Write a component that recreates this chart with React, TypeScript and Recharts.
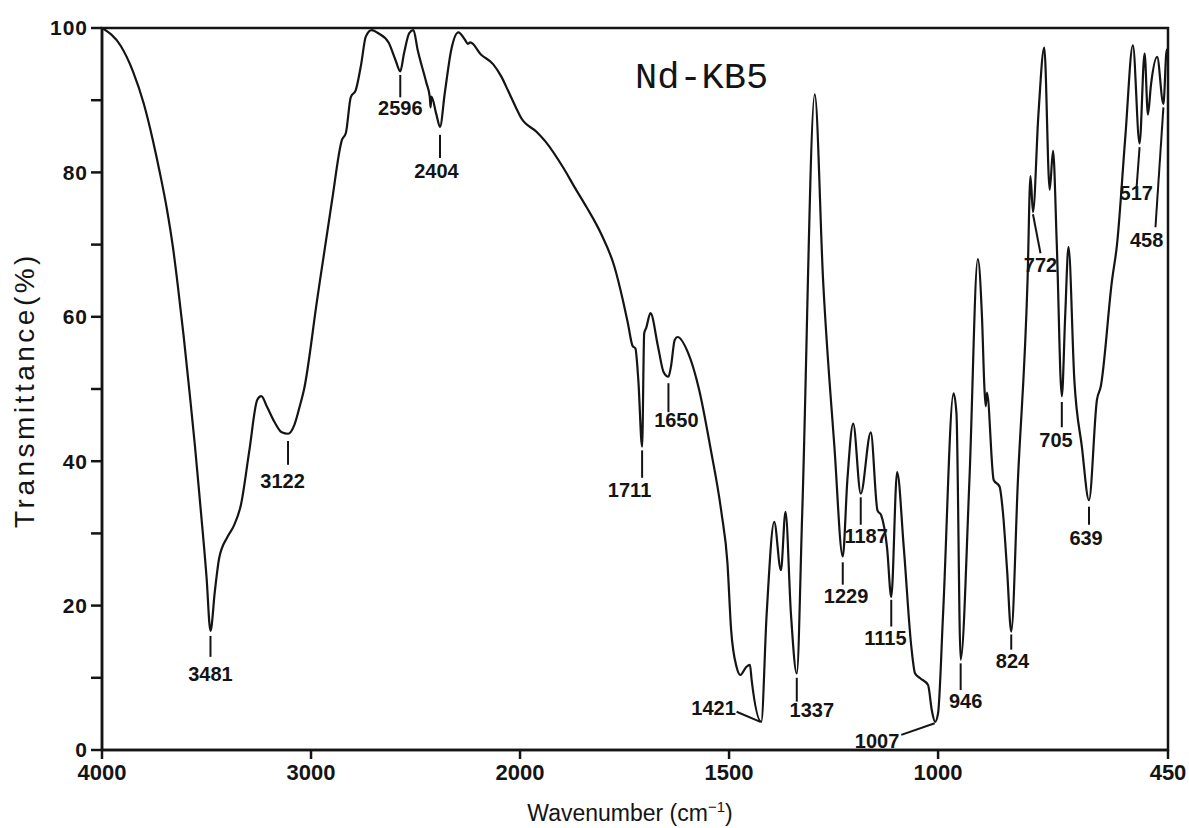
import React from 'react';
import { ComposedChart, Line, Scatter, XAxis, YAxis, ReferenceLine, ReferenceArea } from 'recharts';

// spectrum, wavenumber (cm-1) and transmittance (%)
const wavenumbers = [
  4000, 3910, 3852, 3800, 3757, 3720, 3690, 3660, 3638, 3610, 3581, 3555, 3533, 3500, 3481, 3460,
  3440, 3400, 3370, 3335, 3295, 3257, 3238, 3210, 3176, 3140, 3110, 3080, 3055, 3033, 2971, 2900,
  2852, 2833, 2810, 2786, 2760, 2738, 2710, 2680, 2629, 2595, 2573, 2555, 2530, 2510, 2490, 2448,
  2432, 2428, 2424, 2400, 2383, 2360, 2329, 2295, 2262, 2250, 2238, 2186, 2129, 2090, 2057, 2020,
  1998, 1960, 1938, 1895, 1870, 1841, 1807, 1774, 1754, 1742, 1731, 1724, 1717, 1708, 1703, 1698,
  1688, 1670, 1657, 1645, 1639, 1630, 1623, 1598, 1572, 1545, 1518, 1504, 1495, 1482, 1473, 1459,
  1450, 1446, 1423, 1410, 1392, 1376, 1365, 1352, 1338, 1325, 1295, 1275, 1248, 1228, 1217, 1203,
  1185, 1161, 1145, 1136, 1122, 1112, 1098, 1082, 1064, 1055, 1042, 1024, 1015, 1007, 1000, 988,
  963, 956, 946, 925, 905, 895, 889, 886, 883, 867, 853, 845, 835, 825, 809, 786,
  779, 773, 760, 746, 733, 725, 716, 704, 696, 688, 674, 656, 639, 620, 611, 584,
  572, 552, 534, 518, 506, 498, 491, 476, 461, 453, 450,
];
const transmittance = [
  100, 97.5, 94, 89.5, 84.5, 79.5, 75, 69.5, 64.5, 57.5, 49.5, 42, 35, 24, 16.5, 22,
  26.5, 29.5, 31, 34, 41.5, 48.5, 49, 47.5, 45.5, 44, 43.8, 45, 47.5, 50, 62.3, 76,
  84.5, 85.5, 90.4, 91.4, 95, 98.8, 99.7, 99.3, 98, 95.5, 94, 96.5, 99.3, 99.7, 97, 92.4,
  90.5, 89, 90.5, 88, 86.3, 91, 97, 99.4, 98.3, 97.8, 98, 96.3, 95, 93.3, 91.3, 89,
  87.6, 85.6, 84.2, 80.5, 78, 75.2, 71.6, 66.9, 62.3, 59.1, 56, 55.6, 51.2, 42, 57.7, 58.5,
  60.5, 55.9, 52.4, 51.7, 53.1, 56.8, 57.2, 55, 50, 42, 32.8, 26, 16.6, 11.5, 10.4, 11.5,
  11.8, 9.7, 3.9, 18.9, 31.6, 24.9, 33, 18.9, 10.6, 32.8, 90.8, 65, 42, 26.8, 37.4, 45.2,
  35.5, 44, 33.2, 32.5, 28, 21.2, 38.5, 28, 14.3, 10.6, 9.9, 9, 5.5, 3.9, 5.1, 18.9,
  49.4, 46.6, 12.5, 37.4, 68, 60, 50, 47.6, 49.5, 37.4, 36.5, 33, 25, 16.4, 37.4, 65,
  79.5, 74.5, 88, 97.3, 77.6, 83, 70, 49, 60, 69.7, 51.2, 42, 34.6, 48.5, 50.3, 65,
  70, 85, 97.6, 84, 96.5, 88, 92, 96, 89.5, 97, 96,
];

const xTicks = [4000, 3000, 2000, 1500, 1000, 450];
const yTicks = [0, 10, 20, 30, 40, 50, 60, 70, 80, 90, 100];

// peak labels: text, leader line [wn1, T1, wn2, T2], text spot [wn, T]
const peakNames = ['3481', '3122', '2596', '2404', '1711', '1650', '1421', '1337', '1229', '1187',
  '1115', '1007', '946', '824', '705', '639', '772', '517', '458'];
const peakLeaders = [
  [3481, 15.8, 3481, 12.9], [3110, 42.8, 3110, 39.5], [2573, 93.5, 2573, 90.4], [2383, 85.2, 2383, 82],
  [1708, 41.5, 1708, 37.7], [1645, 50.8, 1645, 46.8], [1482, 5.3, 1425, 3.9], [1338, 10, 1338, 6.7],
  [1228, 26, 1228, 22.9], [1185, 35, 1185, 31.2], [1112, 20.8, 1112, 17.1], [1088, 2.1, 1008, 3.7],
  [946, 12, 946, 8.3], [825, 16, 825, 13.9], [704, 48.2, 704, 44.7], [639, 33.7, 639, 31.2],
  [773, 74.2, 755, 68.8], [518, 83.5, 525, 78], [461, 89, 480, 72.4],
];
const peakTextAt = [
  [3481, 9.6], [3136, 36.3], [2573, 88], [2400, 79.2], [1738, 35], [1626, 44.7], [1537, 4.8], [1302, 4.6],
  [1220, 20.4], [1172, 28.7], [1126, 14.5], [1146, 0.3], [934, 5.8], [822, 11.4], [718, 42], [646, 28.4],
  [755, 66.2], [526, 76.2], [501, 69.7],
];

// the chart paper changes scale at 2000 cm-1: below it each cm-1 gets twice the room
const toPos = (wn: number) => (wn >= 2000 ? (4000 - wn) / 2 : 1000 + (2000 - wn));
const fromPos = (p: number) => (p <= 1000 ? 4000 - p * 2 : 2000 - (p - 1000));

const spectrum = wavenumbers.map((w, i) => ({ pos: toPos(w), t: transmittance[i] }));
const peakText = peakNames.map((name, i) => ({ pos: toPos(peakTextAt[i][0]), t: peakTextAt[i][1], name }));

const INK = '#141414';
const SANS = "'Liberation Sans', Arial, sans-serif";

const PeakText = (props: any) => (
  <text
    x={props.cx}
    y={props.cy}
    textAnchor="middle"
    fontFamily={SANS}
    fontWeight={700}
    fontSize={20}
    fill={INK}
  >
    {props.payload.name}
  </text>
);

export default function App() {
  return (
    <div style={{ position: 'absolute', left: 0, top: 0, width: 1189, height: 828, background: '#fff' }}>
      <ComposedChart width={1189} height={828} margin={{ top: 28, right: 21, bottom: 0, left: 0 }}>
        <XAxis
          type="number"
          dataKey="pos"
          domain={[0, 2550]}
          allowDataOverflow
          ticks={xTicks.map(toPos)}
          interval={0}
          tickFormatter={(p: number) => String(Math.round(fromPos(p)))}
          height={78}
          tickSize={9}
          tickMargin={5}
          axisLine={{ stroke: INK, strokeWidth: 2.5 }}
          tickLine={{ stroke: INK, strokeWidth: 2.5 }}
          tick={{ fill: INK, fontFamily: SANS, fontWeight: 700, fontSize: 22 }}
        />
        <YAxis
          type="number"
          domain={[0, 100]}
          allowDataOverflow
          ticks={yTicks}
          interval={0}
          tickFormatter={(v: number) => (v % 20 === 0 ? String(v) : '')}
          width={102}
          tickSize={11}
          tickMargin={3}
          axisLine={{ stroke: INK, strokeWidth: 2.5 }}
          tickLine={{ stroke: INK, strokeWidth: 2.5 }}
          tick={{ fill: INK, fontFamily: SANS, fontWeight: 700, fontSize: 21, letterSpacing: 1 }}
        />
        <ReferenceArea x1={0} x2={2550} y1={0} y2={100} fill="none" stroke={INK} strokeWidth={2.5} />
        {peakLeaders.map((l, i) => (
          <ReferenceLine
            key={i}
            segment={[{ x: toPos(l[0]), y: l[1] }, { x: toPos(l[2]), y: l[3] }]}
            stroke={INK}
            strokeWidth={2}
            ifOverflow="visible"
          />
        ))}
        <Line
          data={spectrum}
          dataKey="t"
          type="monotone"
          stroke={INK}
          strokeWidth={2.2}
          dot={false}
          isAnimationActive={false}
        />
        <Scatter data={peakText} dataKey="t" shape={PeakText} isAnimationActive={false} />
      </ComposedChart>
      <svg
        width={1189}
        height={828}
        style={{ position: 'absolute', left: 0, top: 0, pointerEvents: 'none' }}
      >
        <text x={635} y={88} fontFamily="'Liberation Mono', 'Courier New', monospace" fontSize={37} fill={INK}>
          Nd-KB5
        </text>
        <text x={630} y={821} textAnchor="middle" fontFamily={SANS} fontSize={23} fill={INK}>
          Wavenumber (cm<tspan dy={-9} fontSize={15}>−1</tspan><tspan dy={9}>)</tspan>
        </text>
        <text
          transform="translate(34,390) rotate(-90)"
          textAnchor="middle"
          fontFamily={SANS}
          fontSize={28}
          letterSpacing={3.5}
          fill={INK}
        >
          Transmittance(%)
        </text>
      </svg>
    </div>
  );
}
